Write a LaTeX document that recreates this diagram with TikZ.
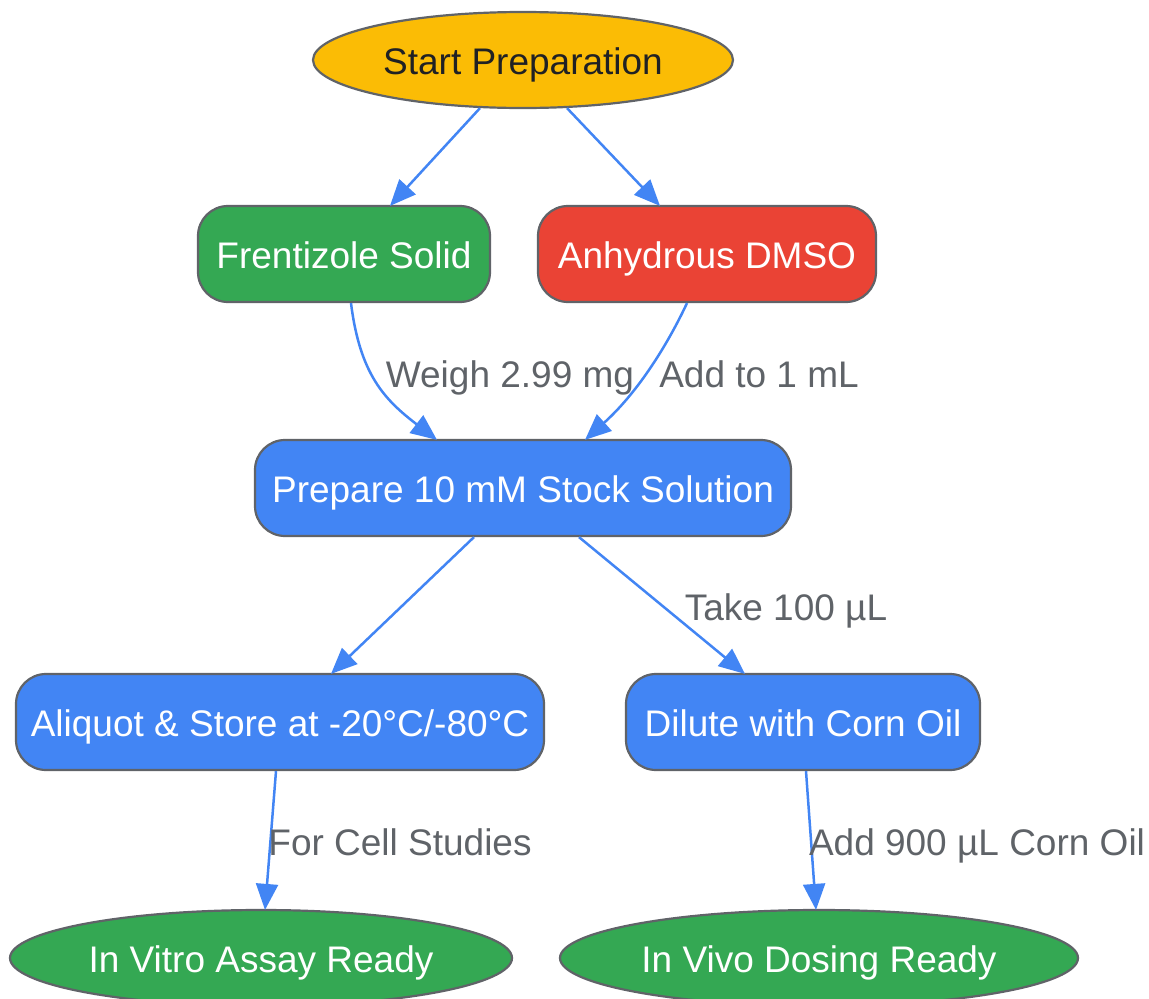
\documentclass[tikz,border=0pt]{standalone}
\usepackage{fontspec}
\setmainfont{Liberation Sans}
\usetikzlibrary{arrows.meta,shapes.geometric}
\definecolor{gyellow}{HTML}{FBBC05}
\definecolor{ggreen}{HTML}{34A853}
\definecolor{gred}{HTML}{EA4335}
\definecolor{gblue}{HTML}{4285F4}
\definecolor{gborder}{HTML}{606368}
\definecolor{glabel}{HTML}{5F6368}
\definecolor{gdark}{HTML}{202124}
\tikzset{
  base/.style={draw=gborder, line width=2.2pt, font=\fontsize{37}{44}\selectfont, inner sep=0pt, text height=34pt, text depth=6pt},
  ellnode/.style={base, ellipse},
  boxnode/.style={base, rectangle, rounded corners=30pt},
  link/.style={draw=gblue, line width=2.5pt, -{Triangle[length=26pt,width=22pt]}},
  elabel/.style={text=glabel, font=\fontsize{37}{44}\selectfont, inner sep=0pt, text height=34pt, text depth=6pt},
}
\begin{document}
\begin{tikzpicture}[x=1pt,y=-1pt]
\useasboundingbox (0,0) rectangle (1149,999);
\node[ellnode, fill=gyellow, text=gdark, minimum width=420pt, minimum height=96pt] (start) at (523,60) {Start Preparation};
\node[boxnode, fill=ggreen, text=white, minimum width=292pt, minimum height=96pt] (fs) at (344,254) {Frentizole Solid};
\node[boxnode, fill=gred, text=white, minimum width=338pt, minimum height=96pt] (dmso) at (707,254) {Anhydrous DMSO};
\node[boxnode, fill=gblue, text=white, minimum width=536pt, minimum height=96pt] (prep) at (523,488) {Prepare 10 mM Stock Solution};
\node[boxnode, fill=gblue, text=white, minimum width=528pt, minimum height=96pt] (aliq) at (280,722) {Aliquot \& Store at -20°C/-80°C};
\node[boxnode, fill=gblue, text=white, minimum width=354pt, minimum height=96pt] (dil) at (803,722) {Dilute with Corn Oil};
\node[ellnode, fill=ggreen, text=white, minimum width=502pt, minimum height=96pt] (vitro) at (261,958) {In Vitro Assay Ready};
\node[ellnode, fill=ggreen, text=white, minimum width=518pt, minimum height=96pt] (vivo) at (819,958) {In Vivo Dosing Ready};

\draw[link] ([xshift=-43pt,yshift=1pt]start.south) -- ([xshift=46pt,yshift=-1pt]fs.north);
\draw[link] ([xshift=44pt,yshift=1pt]start.south) -- ([xshift=-47pt,yshift=-1pt]dmso.north);
\draw[link] ([xshift=7pt]fs.south) .. controls (360,375) and (385,400) .. ([xshift=-86pt,yshift=-1pt]prep.north);
\draw[link] ([xshift=-20pt]dmso.south) .. controls (665,350) and (635,395) .. ([xshift=62pt,yshift=-1pt]prep.north);
\draw[link] ([xshift=-49pt]prep.south) -- ([xshift=51pt,yshift=-1pt]aliq.north);
\draw[link] ([xshift=56pt]prep.south) -- ([xshift=-58pt,yshift=-1pt]dil.north);
\draw[link] ([xshift=-4pt]aliq.south) -- ([xshift=4pt,yshift=-1pt]vitro.north);
\draw[link] ([xshift=3pt]dil.south) -- ([xshift=-3pt,yshift=-1pt]vivo.north);

\node[elabel] (l1) at (510,373) {Weigh 2.99 mg};
\node[elabel] (l2) at (759,373) {Add to 1 mL};
\node[elabel] (l3) at (786,606) {Take 100 µL};
\node[elabel] (l4) at (400,841) {For Cell Studies};
\node[elabel] (l5) at (977,841) {Add 900 µL Corn Oil};
\end{tikzpicture}
\end{document}
